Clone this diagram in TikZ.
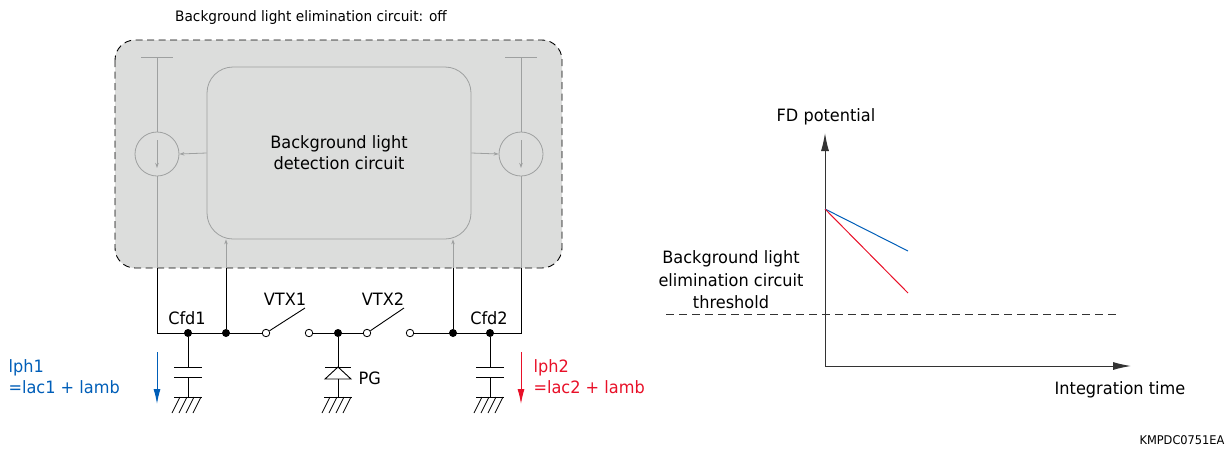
\documentclass[tikz,border=0pt]{standalone}
\usepackage{fontspec}
\setmainfont{DejaVu Sans}[FakeStretch=0.95]
\usepackage{tikz}
\usetikzlibrary{arrows.meta,positioning,calc}
\definecolor{boxgray}{RGB}{220,221,220}
\definecolor{linegray}{RGB}{158,160,160}
\definecolor{iblue}{RGB}{0,94,184}
\definecolor{ired}{RGB}{232,16,40}
\definecolor{axisgray}{RGB}{51,51,51}

\begin{document}
\begin{tikzpicture}[x=1pt,y=-1pt,
  lbl/.style={font=\fontsize{17}{21}\selectfont},
  wire/.style={draw=black,line width=0.9pt},
  gwire/.style={draw=linegray,line width=0.8pt},
  dot/.style={circle,fill=black,inner sep=0pt,minimum size=8pt},
  odot/.style={circle,draw=black,fill=white,inner sep=0pt,minimum size=7.5pt,line width=0.8pt},
  csrc/.style={circle,draw=linegray,line width=0.8pt,inner sep=0pt,minimum size=44pt},
  garrow/.style={gwire,-{Stealth[length=5pt,width=3.5pt]}},
  iarrow/.style={line width=1pt,-{Latex[length=15pt,width=7pt]}},
  axis/.style={draw=axisgray,line width=1pt,-{Latex[length=18pt,width=8pt]}}]
\useasboundingbox (0,0) rectangle (1232,451);

% Background light elimination circuit
\node[font=\fontsize{14.4}{18}\selectfont] (title) at (311,18) {Background light elimination circuit: off};
\draw[dash pattern=on 7pt off 4.5pt, line width=0.9pt, fill=boxgray, rounded corners=20pt] (115,40) rectangle (562,268);
\node[lbl, draw=linegray, line width=0.8pt, fill=boxgray, rounded corners=26pt, minimum width=264pt, minimum height=172pt, align=center] (bld) at (339,153) {Background light\\detection circuit};

% Current sources
\node[csrc] (cs1) at (157,154) {};
\node[csrc] (cs2) at (521,154) {};
\coordinate (top1) at (157,57);
\coordinate (top2) at (521,57);
\draw[gwire] (141,57) -- (173,57);
\draw[gwire] (505,57) -- (537,57);
\draw[gwire] (top1) -- (cs1.north);
\draw[gwire] (top2) -- (cs2.north);
\draw[garrow] ($(cs1.center)+(0,-14)$) -- ($(cs1.center)+(0,14)$);
\draw[garrow] ($(cs2.center)+(0,-14)$) -- ($(cs2.center)+(0,14)$);
\draw[garrow] (bld.west) -- (cs1.east);
\draw[garrow] (bld.east) -- (cs2.west);

% Box edge crossings
\coordinate (e1) at (157,268);
\coordinate (e2) at (226,268);
\coordinate (e3) at (453,268);
\coordinate (e4) at (521,268);
\draw[gwire] (cs1.south) -- (e1);
\draw[gwire] (cs2.south) -- (e4);
\draw[garrow] (e2) -- (e2 |- bld.south);
\draw[garrow] (e3) -- (e3 |- bld.south);

% Wiring
\coordinate (cl) at (157,333);
\coordinate (cr) at (521,333);
\node[dot] (cfd1) at (188,333) {};
\node[dot] (n2) at (226,333) {};
\node[odot] (s1a) at (266,333) {};
\node[odot] (s1b) at (309,333) {};
\node[dot] (pg) at (338,333) {};
\node[odot] (s2a) at (367,333) {};
\node[odot] (s2b) at (410,333) {};
\node[dot] (n3) at (453,333) {};
\node[dot] (cfd2) at (490,333) {};
\coordinate (b1) at (305,308);
\coordinate (b2) at (404,308);
\draw[wire] (e1) -- (cl) -- (s1a);
\draw[wire] (e2) -- (n2);
\draw[wire] (s1b) -- (s2a);
\draw[wire] (s2b) -- (cr) -- (e4);
\draw[wire] (e3) -- (n3);
\draw[wire] (s1a) -- (b1);
\draw[wire] (s2a) -- (b2);

% Capacitors and photodiode
\foreach \cx/\nd in {188/cfd1, 490/cfd2} {
  \draw[wire] (\nd) -- (\cx,367);
  \draw[wire] (\cx-14,367) -- (\cx+14,367);
  \draw[wire] (\cx-14,377) -- (\cx+14,377);
  \draw[wire] (\cx,377) -- (\cx,397);
}
\draw[wire] (pg) -- (338,367);
\draw[wire] (325,367) -- (351,367);
\draw[wire] (338,367) -- (325,379) -- (351,379) -- cycle;
\draw[wire] (338,379) -- (338,397);
% Grounds
\foreach \gx in {188, 338, 490} {
  \draw[wire] (\gx-14,397) -- (\gx+14,397);
  \foreach \k in {0,1,2,3}
    \draw[line width=0.8pt] (\gx-8+7*\k,397) -- (\gx-16+7*\k,413);
}

% Currents
\coordinate (ia1) at (157,352);
\coordinate (ib1) at (157,404);
\coordinate (ia2) at (521,352);
\coordinate (ib2) at (521,404);
\draw[iarrow, iblue] (ia1) -- (ib1);
\draw[iarrow, ired] (ia2) -- (ib2);

% Labels
\node[lbl] (lcfd1) at (187,318) {Cfd1};
\node[lbl] (lcfd2) at (489,318) {Cfd2};
\node[lbl] (lvtx1) at (285,299) {VTX1};
\node[lbl] (lvtx2) at (383,299) {VTX2};
\node[lbl, anchor=west] (lpg) at (355,378) {PG};
\node[lbl, iblue, anchor=west, align=left] (liph1) at (5,377) {lph1\\=lac1 + lamb};
\node[lbl, ired, anchor=west, align=left] (liph2) at (530,377) {lph2\\=lac2 + lamb};

% FD potential graph
\coordinate (o) at (825,366);
\coordinate (ytop) at (825,133);
\coordinate (xend) at (1131,366);
\coordinate (v0) at (825,209);
\coordinate (vb) at (908,251);
\coordinate (vr) at (908,293);
\coordinate (th1) at (666,314);
\coordinate (th2) at (1120,314);
\draw[dash pattern=on 8pt off 5pt, draw=axisgray, line width=0.9pt] (th1) -- (th2);
\draw[axis] (o) -- (ytop);
\draw[axis] (o) -- (xend);
\draw[iblue, line width=1pt] (v0) -- (vb);
\draw[ired, line width=1pt] (v0) -- (vr);
\node[lbl] (lfd) at (826,117) {FD potential};
\node[lbl] (ltime) at (1120,390) {Integration time};
\node[lbl, align=center, font=\fontsize{17}{22.5}\selectfont] (lthr) at (731,280) {Background light\\elimination circuit\\threshold};
\node[font=\fontsize{12}{14}\selectfont, anchor=east] (lcode) at (1228,440) {KMPDC0751EA};
\end{tikzpicture}
\end{document}
